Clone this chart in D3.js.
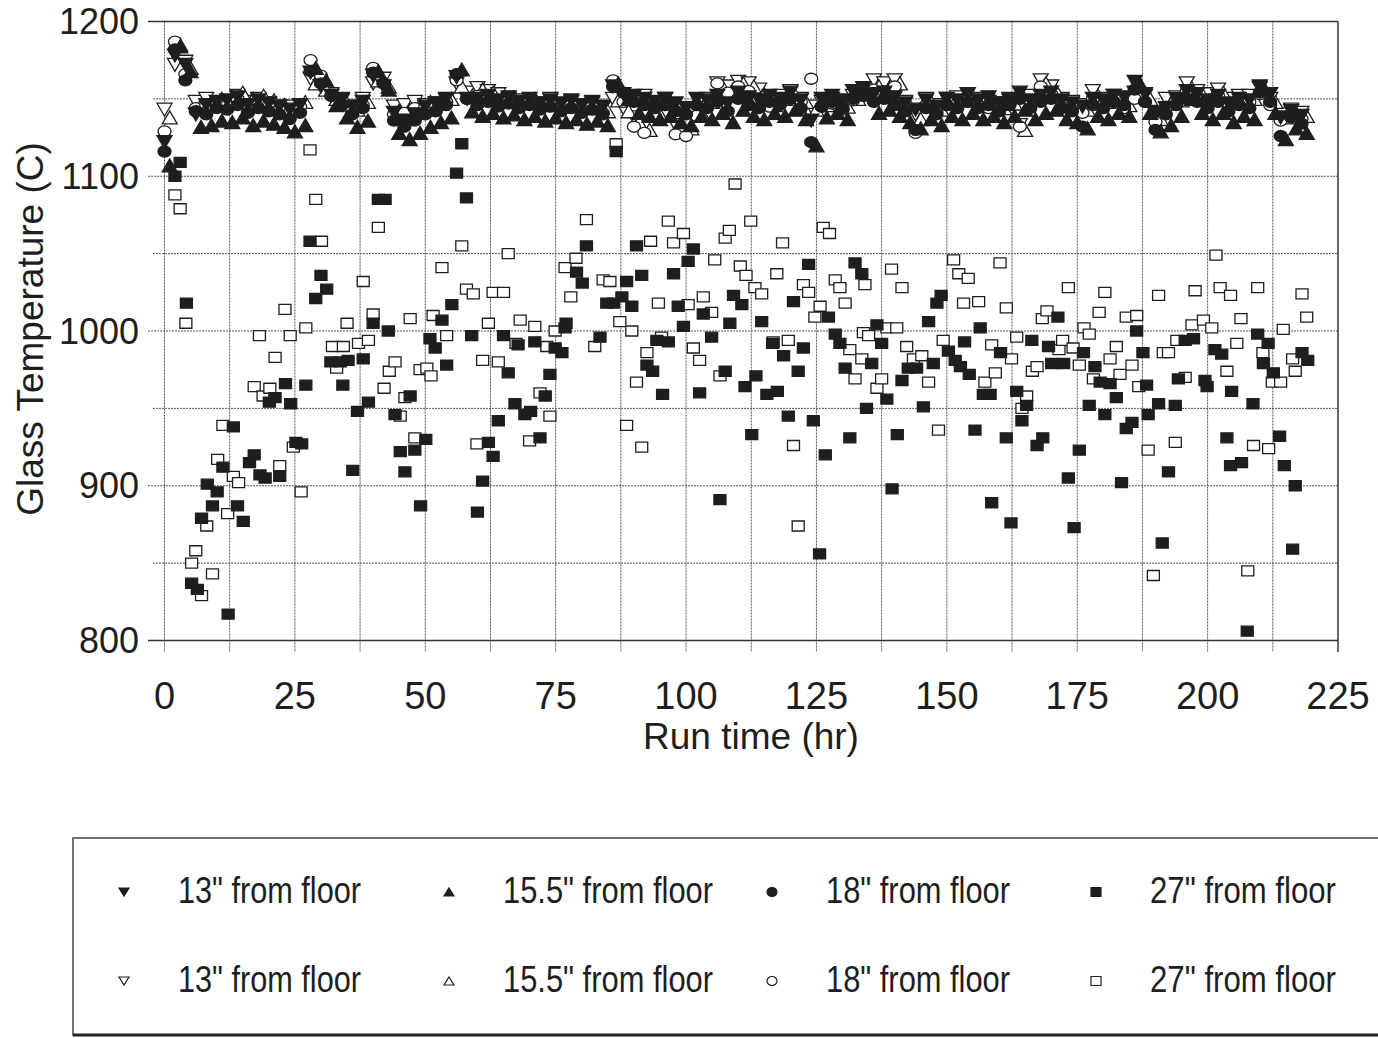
<!DOCTYPE html>
<html><head><meta charset="utf-8">
<script src="https://cdn.jsdelivr.net/npm/d3@7"></script>
<style>body{margin:0;background:#fff;} svg{display:block;font-family:"Liberation Sans",Arial,sans-serif;}</style>
</head><body><svg id="c" width="1378" height="1038"></svg>
<script>
// ---------------- DATA ----------------
// sampling times (hr) for the 13" and 18" probes
const bandHours = [0,2,4,6,8,10,12,14,16,18,20,22,24,26,28,30,32,34,36,38,40,42,44,46,48,50,52,54,56,58,60,62,64,66,68,70,72,74,76,78,80,82,84,86,88,90,92,94,96,98,100,102,104,106,108,110,112,114,116,118,120,122,124,126,128,130,132,134,136,138,140,142,144,146,148,150,152,154,156,158,160,162,164,166,168,170,172,174,176,178,180,182,184,186,188,190,192,194,196,198,200,202,204,206,208,210,212,214,216,218];
// sampling times (hr) for the 15.5" probe
const bandHours155 = [1,3,5,7,9,11,13,15,17,19,21,23,25,27,29,31,33,35,37,39,41,43,45,47,49,51,53,55,57,59,61,63,65,67,69,71,73,75,77,79,81,83,85,87,89,91,93,95,97,99,101,103,105,107,109,111,113,115,117,119,121,123,125,127,129,131,133,135,137,139,141,143,145,147,149,151,153,155,157,159,161,163,165,167,169,171,173,175,177,179,181,183,185,187,189,191,193,195,197,199,201,203,205,207,209,211,213,215,217,219];

const filled13 = [1122,1178,1172,1140,1146,1148,1149,1151,1146,1149, 1147,1145,1143,1146,1167,1158,1152,1150,1145,1148, 1165,1158,1141,1136,1140,1145,1147,1150,1164,1150, 1150,1152,1149,1151,1148,1150,1147,1149,1147,1149, 1146,1148,1145,1158,1153,1152,1150,1148,1150,1147, 1144,1150,1149,1152,1147,1154,1151,1149,1152,1150, 1154,1149,1136,1150,1152,1149,1155,1157,1153,1154, 1151,1147,1143,1149,1145,1150,1149,1153,1149,1151, 1147,1150,1154,1149,1152,1154,1149,1147,1145,1150, 1149,1152,1151,1161,1153,1141,1144,1150,1155,1153, 1149,1152,1147,1150,1149,1158,1153,1138,1142,1139];
const filled155 = [1107,1184,1168,1132,1133,1136,1135,1138,1133,1136, 1134,1132,1129,1133,1170,1162,1146,1138,1132,1136, 1168,1156,1128,1124,1128,1132,1135,1138,1169,1142, 1139,1141,1138,1140,1137,1139,1136,1138,1135,1137, 1134,1136,1133,1160,1150,1141,1139,1137,1139,1135, 1133,1139,1137,1141,1135,1143,1139,1137,1141,1139, 1143,1137,1120,1138,1141,1137,1156,1154,1141,1143, 1139,1135,1131,1137,1133,1139,1137,1141,1137,1139, 1135,1139,1143,1137,1141,1143,1137,1135,1131,1139, 1137,1141,1139,1160,1141,1129,1133,1139,1150,1141, 1137,1141,1135,1139,1137,1156,1141,1124,1131,1128];
const filled18 = [1116,1182,1162,1142,1140,1144,1143,1146,1141,1144, 1142,1140,1137,1141,1168,1160,1152,1146,1140,1144, 1167,1160,1136,1132,1136,1140,1142,1146,1166,1150, 1146,1148,1145,1147,1144,1146,1143,1145,1142,1144, 1141,1143,1140,1158,1154,1148,1146,1144,1146,1142, 1140,1146,1144,1148,1142,1150,1146,1144,1148,1146, 1150,1144,1122,1145,1148,1144,1150,1152,1148,1150, 1146,1142,1130,1144,1140,1146,1144,1148,1144,1146, 1142,1146,1150,1144,1148,1150,1144,1142,1132,1146, 1144,1148,1146,1156,1148,1130,1140,1146,1150,1148, 1144,1148,1142,1146,1144,1154,1148,1126,1138,1134];
const open13 = [1143,1172,1174,1148,1150,1146,1147,1152,1148,1150, 1147,1145,1145,1146,1163,1158,1153,1149,1145,1150, 1160,1163,1145,1146,1148,1146,1147,1149,1160,1154, 1157,1155,1153,1150,1149,1148,1147,1150,1146,1148, 1145,1147,1144,1150,1144,1138,1152,1145,1150,1133, 1128,1144,1150,1160,1158,1161,1160,1156,1150,1152, 1155,1150,1145,1148,1150,1147,1152,1157,1162,1160, 1162,1148,1140,1150,1146,1150,1151,1153,1150,1148, 1147,1149,1133,1152,1162,1158,1150,1148,1146,1155, 1150,1152,1149,1154,1152,1140,1150,1151,1160,1155, 1153,1156,1150,1152,1152,1157,1150,1140,1143,1141];
const open155 = [1138,1185,1170,1146,1148,1150,1151,1154,1150,1152, 1149,1146,1144,1148,1160,1156,1150,1147,1143,1148, 1162,1158,1142,1143,1146,1148,1147,1150,1158,1152, 1156,1154,1150,1151,1148,1150,1146,1149,1145,1147, 1144,1146,1142,1149,1142,1135,1130,1140,1148,1130, 1131,1141,1148,1158,1156,1160,1158,1153,1146,1150, 1152,1148,1143,1146,1148,1145,1150,1154,1158,1157, 1160,1145,1137,1148,1143,1148,1149,1151,1147,1146, 1144,1147,1130,1150,1160,1155,1147,1145,1143,1152, 1148,1150,1146,1152,1150,1137,1147,1149,1157,1153, 1151,1154,1148,1150,1150,1155,1148,1138,1141,1139];
const open18 = [1129,1187,1166,1144,1146,1148,1146,1150,1145,1148, 1146,1143,1141,1145,1175,1165,1152,1146,1142,1146, 1170,1160,1140,1141,1144,1145,1146,1148,1162,1150, 1152,1152,1149,1150,1147,1149,1145,1148,1144,1146, 1143,1145,1141,1162,1148,1132,1128,1138,1146,1127, 1126,1139,1146,1160,1154,1158,1155,1150,1145,1148, 1150,1148,1163,1145,1147,1143,1149,1152,1156,1155, 1158,1142,1128,1146,1141,1146,1147,1150,1146,1144, 1142,1146,1132,1148,1158,1153,1145,1143,1141,1150, 1146,1148,1144,1150,1148,1135,1145,1147,1155,1151, 1149,1152,1146,1148,1148,1153,1146,1136,1139,1137];

// 27" from floor: [run time (hr), temperature (C)]
const filled27 = [[2.0,1100],[3.0,1109],[4.2,1018],[5.2,837],[6.3,833],[7.1,879],[8.2,901],[9.2,887],[10.1,896],[11.2,912],[12.2,817],[13.2,938],[14.0,887],[15.1,877],[16.3,915],[17.2,920],[18.3,907],[19.3,905],[20.1,954],[21.2,957],[22.1,906],[23.2,966],[24.2,953],[25.2,928],[26.3,927],[27.1,965],[27.9,1058],[29.0,1021],[30.0,1036],[31.1,1027],[31.9,980],[33.7,980],[34.2,965],[35.2,981],[36.1,910],[37.0,948],[38.1,982],[39.1,954],[40.0,1005],[41.0,1085],[42.3,1085],[42.9,1000],[44.2,946],[45.2,922],[46.1,909],[47.1,958],[48.0,923],[49.1,887],[50.1,930],[50.9,995],[51.9,989],[53.2,1007],[54.1,978],[55.1,1017],[56.0,1102],[57.0,1121],[57.9,1086],[58.9,997],[60.0,883],[61.0,903],[62.1,928],[63.0,919],[64.0,942],[65.0,997],[65.9,973],[67.2,953],[67.8,991],[69.1,946],[70.2,948],[71.0,993],[72.0,931],[73.0,958],[73.9,972],[74.9,989],[76.2,986],[76.8,1002],[77.0,1005],[79.0,1038],[80.1,1031],[80.9,1055],[83.5,996],[84.8,1018],[86.1,1018],[86.6,1116],[87.7,1022],[88.6,1032],[89.6,1016],[90.5,1055],[91.5,1036],[92.5,978],[93.6,974],[94.4,994],[95.5,959],[96.6,993],[97.6,1037],[98.5,1016],[99.5,1003],[100.4,1045],[101.4,1053],[102.6,960],[103.3,1011],[104.9,996],[106.5,891],[107.5,974],[108.4,1005],[109.1,1023],[110.7,1017],[111.3,964],[112.6,933],[113.4,971],[114.5,1006],[115.5,959],[116.6,992],[117.5,961],[118.7,984],[119.6,945],[120.6,1019],[121.5,974],[122.5,989],[123.5,1043],[124.4,942],[125.6,856],[126.7,920],[127.3,1009],[128.6,998],[129.5,992],[130.5,976],[131.4,931],[132.4,1044],[133.7,1037],[134.6,950],[135.6,979],[136.6,1004],[137.5,992],[138.5,956],[139.5,898],[140.5,933],[141.4,968],[142.6,976],[144.2,976],[145.5,951],[146.5,1006],[147.4,979],[148.1,1018],[148.9,1023],[150.3,987],[151.6,981],[152.6,977],[153.4,993],[154.3,972],[155.4,936],[156.4,1002],[157.0,959],[158.3,959],[158.6,889],[160.3,986],[161.4,931],[162.3,876],[163.4,961],[164.4,942],[165.3,952],[166.3,994],[167.3,926],[168.4,931],[169.5,990],[170.1,979],[171.3,1009],[172.4,979],[173.3,905],[174.4,873],[175.4,923],[176.2,986],[177.3,952],[178.4,977],[179.4,967],[180.3,946],[181.3,966],[182.5,957],[183.5,902],[184.4,937],[185.5,941],[186.4,1000],[187.6,986],[188.3,965],[188.6,946],[190.6,953],[191.3,863],[192.5,909],[193.8,952],[194.4,969],[195.7,994],[197.3,995],[199.5,968],[199.9,964],[201.4,988],[202.7,985],[203.7,931],[204.4,913],[204.6,961],[206.5,915],[207.6,806],[208.7,953],[209.6,998],[210.7,979],[211.6,992],[212.6,973],[213.8,932],[214.7,913],[216.3,859],[216.8,900],[218.1,986],[219.2,981]];
const open27 = [[2.0,1088],[3.0,1079],[4.1,1005],[5.2,850],[6.0,858],[7.1,829],[8.1,874],[9.2,843],[10.2,917],[11.2,939],[12.1,882],[13.2,906],[14.2,902],[17.2,964],[18.2,997],[18.9,958],[20.2,963],[21.2,983],[22.1,913],[23.1,1014],[24.1,997],[24.7,925],[26.2,896],[27.1,1002],[27.9,1117],[29.0,1085],[30.1,1058],[32.2,990],[33.0,976],[34.3,990],[35.0,1005],[37.2,992],[38.1,1032],[39.1,994],[40.0,1011],[41.0,1067],[42.1,963],[43.1,974],[44.2,980],[45.2,945],[46.1,957],[47.1,1008],[48.0,931],[49.0,975],[50.3,976],[51.1,971],[51.5,1010],[53.2,1041],[54.1,997],[57.0,1055],[57.9,1027],[59.2,1024],[59.9,927],[61.0,981],[62.1,1005],[63.0,1025],[64.0,980],[65.0,1025],[65.9,1050],[67.4,992],[68.2,1007],[70.0,929],[71.0,1003],[72.0,960],[73.3,990],[73.9,945],[74.9,1000],[76.8,1041],[77.9,1022],[78.9,1047],[80.9,1072],[82.5,990],[84.1,1033],[85.4,1032],[86.6,1121],[87.3,1006],[88.6,939],[89.6,1000],[90.5,967],[91.5,925],[92.5,986],[93.2,1058],[94.7,1018],[95.3,996],[96.6,1071],[97.6,1057],[99.5,1063],[100.4,1017],[101.4,989],[102.6,981],[103.3,1022],[104.9,1012],[105.5,1046],[106.5,971],[107.5,1060],[108.3,1065],[109.4,1095],[110.4,1042],[111.5,1036],[112.4,1071],[113.2,1028],[114.5,1024],[116.7,993],[117.4,1037],[118.5,1057],[119.6,994],[120.6,926],[121.5,874],[122.5,1030],[123.5,1025],[124.7,1009],[125.7,1016],[126.3,1067],[127.5,1063],[128.6,1033],[129.5,1028],[130.5,1018],[131.4,988],[132.4,969],[133.7,982],[134.0,999],[134.3,1030],[135.0,997],[136.6,963],[137.5,969],[138.5,1002],[139.4,1040],[140.4,1002],[141.4,1028],[142.3,990],[143.6,982],[145.2,984],[146.5,967],[148.4,936],[149.3,994],[151.3,1046],[152.3,1037],[153.2,1018],[154.1,1034],[156.1,1019],[157.3,967],[158.6,991],[159.3,973],[160.2,1044],[161.4,1015],[162.4,982],[163.4,996],[164.4,950],[165.3,958],[166.4,974],[167.3,977],[168.3,1008],[169.2,1013],[171.5,988],[172.2,994],[173.3,1028],[174.2,989],[175.4,978],[176.3,1002],[177.3,998],[178.1,969],[179.2,1012],[180.3,1025],[181.3,982],[182.5,990],[183.2,972],[184.4,1009],[185.5,978],[186.4,1010],[186.8,964],[188.6,923],[189.6,842],[190.6,1023],[191.5,986],[192.5,986],[193.8,928],[194.1,994],[195.7,970],[197.0,1004],[197.6,1026],[199.2,1007],[200.8,1002],[201.6,1049],[202.4,1028],[203.7,974],[204.4,1023],[205.6,992],[206.4,1008],[207.7,845],[208.8,926],[209.6,1028],[210.6,986],[211.7,924],[212.4,967],[214.0,967],[214.5,1001],[216.3,982],[216.8,974],[218.1,1024],[219.0,1009]];

const xTicks = [0,25,50,75,100,125,150,175,200,225];
const xGrid = [0,12.5,25,37.5,50,62.5,75,87.5,100,112.5,125,137.5,150,162.5,175,187.5,200,212.5,225];
const yTicks = [800,900,1000,1100,1200];
const yMinorGrid = [850,950,1050,1150];
const legendLabels = ['13" from floor','15.5" from floor','18" from floor','27" from floor'];
const xTitle = "Run time (hr)";
const yTitle = "Glass Temperature (C)";

// ---------------- DRAW ----------------
const svg = d3.select("#c");
const x = d3.scaleLinear().domain([0,225]).range([164.5,1338]);
const y = d3.scaleLinear().domain([800,1200]).range([640.5,21.5]);
const INK = "#1e1e1e";

// grid
const g = svg.append("g");
g.selectAll(".vg").data(xGrid).join("line")
  .attr("x1",d=>x(d)).attr("x2",d=>x(d)).attr("y1",y(1200)).attr("y2",652)
  .attr("stroke",d=>d===225?"#333":"#555").attr("stroke-width",d=>d===225?1.5:1)
  .attr("stroke-dasharray",d=>d===225?null:"2,1");
g.selectAll(".hg").data(yTicks).join("line")
  .attr("x1",148).attr("x2",x(225)).attr("y1",d=>y(d)).attr("y2",d=>y(d))
  .attr("stroke",d=>(d===800||d===1200)?"#333":"#555").attr("stroke-width",d=>(d===800||d===1200)?1.5:1)
  .attr("stroke-dasharray",d=>(d===800||d===1200)?null:"2,1");
g.selectAll(".hm").data(yMinorGrid).join("line")
  .attr("x1",153).attr("x2",x(225)).attr("y1",d=>y(d)).attr("y2",d=>y(d))
  .attr("stroke","#555").attr("stroke-width",1).attr("stroke-dasharray","2,1");

// tick labels
svg.append("g").selectAll("text").data(xTicks).join("text")
  .attr("x",d=>x(d)).attr("y",709).attr("text-anchor","middle")
  .attr("font-size",38).attr("fill",INK).text(d=>d);
svg.append("g").selectAll("text").data(yTicks).join("text")
  .attr("x",139).attr("y",d=>y(d)+12.5).attr("text-anchor","end")
  .attr("font-size",36).attr("fill",INK).text(d=>d);

svg.append("text").attr("x",751).attr("y",749).attr("text-anchor","middle")
  .attr("font-size",37).attr("fill",INK).text(xTitle);
svg.append("text").attr("transform","translate(43,329) rotate(-90)").attr("text-anchor","middle")
  .attr("font-size",37).attr("fill",INK).text(yTitle);

// marker shapes
function downTri(w,h){return `M${-w/2},${-h/2}L${w/2},${-h/2}L0,${h/2}Z`;}
function upTri(w,h){return `M0,${-h/2}L${w/2},${h/2}L${-w/2},${h/2}Z`;}
function ellipse(rx,ry){return `M${-rx},0A${rx},${ry} 0 1,0 ${rx},0A${rx},${ry} 0 1,0 ${-rx},0Z`;}
function rectP(w,h){return `M${-w/2},${-h/2}h${w}v${h}h${-w}Z`;}

const plot = svg.append("g");
function drawBand(hours, vals, path, filled){
  plot.append("g").selectAll("path").data(hours.map((h,i)=>[h,vals[i]])).join("path")
    .attr("transform",d=>`translate(${x(d[0])},${y(d[1])})`)
    .attr("d",path)
    .attr("fill",filled?INK:"#fff").attr("stroke",INK).attr("stroke-width",1.3);
}
function drawPairs(pairs, path, filled){
  plot.append("g").selectAll("path").data(pairs).join("path")
    .attr("transform",d=>`translate(${x(d[0])},${y(d[1])})`)
    .attr("d",path)
    .attr("fill",filled?INK:"#fff").attr("stroke",INK).attr("stroke-width",1.3);
}
const DT = downTri(15,13), UT = upTri(15,13), CI = ellipse(6.5,5.5), SQ = rectP(12,10);
drawPairs(open27, SQ, false);
drawPairs(filled27, SQ, true);
drawBand(bandHours, open13, DT, false);
drawBand(bandHours155, open155, UT, false);
drawBand(bandHours, open18, CI, false);
drawBand(bandHours, filled13, DT, true);
drawBand(bandHours155, filled155, UT, true);
drawBand(bandHours, filled18, CI, true);

// legend
const lg = svg.append("g");
lg.append("rect").attr("x",73).attr("y",838).attr("width",1340).attr("height",197)
  .attr("fill","none").attr("stroke","#444").attr("stroke-width",1.5);
lg.append("line").attr("x1",73).attr("x2",1378).attr("y1",1035).attr("y2",1035).attr("stroke","#222").attr("stroke-width",3);
const colsX = [124,449,772,1096];
const textW = [183,210,184,186];
const lShapes = [downTri(10,8), upTri(10,8), ellipse(5,4.5), rectP(10,9)];
[true,false].forEach((filled,row)=>{
  const yy = row===0?892:981;
  legendLabels.forEach((lab,i)=>{
    lg.append("path").attr("transform",`translate(${colsX[i]},${yy})`).attr("d",lShapes[i])
      .attr("fill",filled?INK:"#fff").attr("stroke",INK).attr("stroke-width",1.2);
    lg.append("text").attr("x",colsX[i]+54).attr("y",yy+11).attr("font-size",37)
      .attr("textLength",textW[i]).attr("lengthAdjust","spacingAndGlyphs")
      .attr("fill",INK).text(lab);
  });
});
</script></body></html>
